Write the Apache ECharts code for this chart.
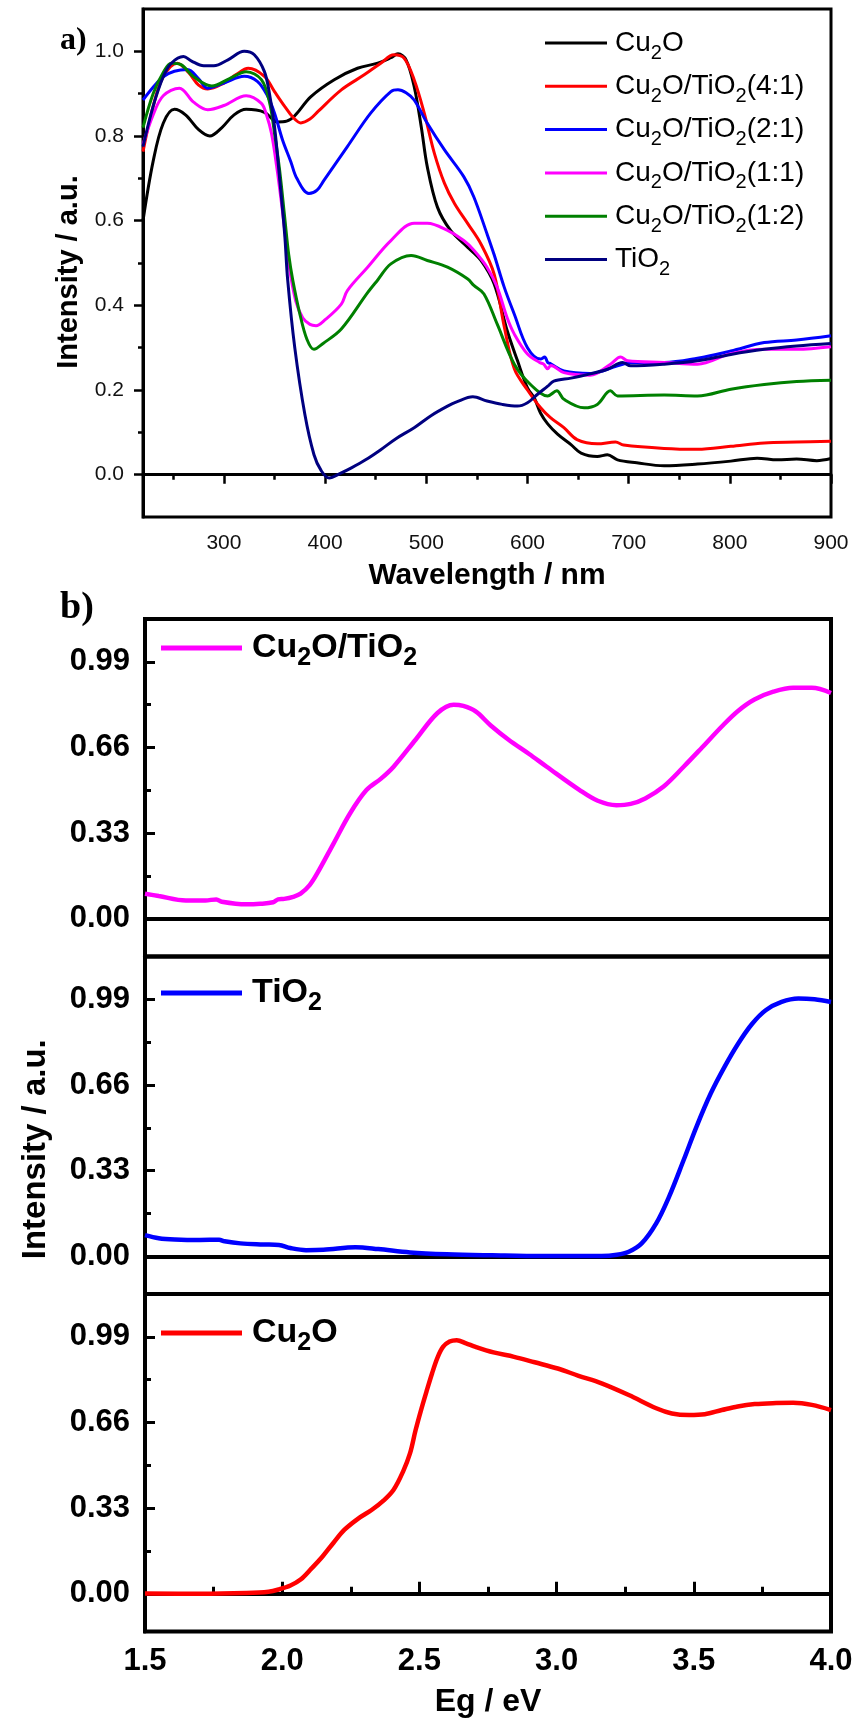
<!DOCTYPE html>
<html><head><meta charset="utf-8">
<script src="https://cdn.jsdelivr.net/npm/echarts@6/dist/echarts.min.js"></script>
<style>html,body{margin:0;padding:0;background:#fff}#c{width:857px;height:1727px}</style>
</head><body><div id="c"></div><script>
// ---------- Panel a: UV-vis spectra (wavelength nm, intensity) ----------
const aCu2O = [[220,0.60],[230,0.74],[240,0.83],[251,0.863],[262,0.85],[275,0.815],[286,0.80],[298,0.82],[310,0.85],[322,0.863],[340,0.856],[353,0.833],[362,0.835],[370,0.848],[386,0.893],[409,0.933],[432,0.960],[452,0.972],[465,0.985],[472,0.994],[480,0.980],[488,0.917],[495,0.822],[501,0.727],[511,0.632],[524,0.577],[541,0.537],[554,0.506],[567,0.451],[580,0.34],[590,0.27],[600,0.205],[607,0.18],[613,0.145],[620,0.120],[630,0.095],[643,0.071],[653,0.051],[669,0.043],[679,0.047],[689,0.035],[708,0.028],[735,0.021],[768,0.025],[801,0.032],[827,0.039],[847,0.035],[866,0.037],[886,0.033],[900,0.038]];
const a41 = [[220,0.763],[230,0.87],[240,0.94],[254,0.972],[265,0.95],[275,0.92],[284,0.911],[300,0.925],[312,0.945],[324,0.960],[340,0.941],[350,0.905],[360,0.870],[368,0.845],[376,0.831],[385,0.84],[393,0.858],[416,0.909],[439,0.945],[455,0.972],[468,0.992],[478,0.984],[488,0.933],[498,0.854],[508,0.759],[518,0.688],[528,0.640],[541,0.593],[554,0.545],[567,0.474],[577,0.35],[587,0.25],[600,0.20],[613,0.158],[623,0.134],[636,0.111],[649,0.083],[669,0.073],[687,0.077],[695,0.070],[735,0.062],[768,0.060],[801,0.067],[834,0.075],[866,0.077],[900,0.079]];
const a21 = [[220,0.885],[230,0.915],[240,0.94],[251,0.953],[264,0.957],[275,0.935],[284,0.913],[300,0.925],[320,0.941],[333,0.929],[343,0.895],[350,0.854],[358,0.79],[366,0.74],[372,0.70],[384,0.664],[392,0.672],[399,0.696],[422,0.775],[445,0.854],[465,0.905],[472,0.909],[480,0.902],[488,0.885],[501,0.830],[518,0.767],[537,0.704],[547,0.656],[560,0.569],[567,0.52],[577,0.443],[587,0.379],[600,0.300],[613,0.273],[617,0.278],[620,0.265],[623,0.262],[636,0.245],[662,0.239],[689,0.257],[702,0.265],[735,0.265],[768,0.275],[801,0.292],[834,0.312],[866,0.318],[900,0.328]];
const a11 = [[220,0.78],[230,0.85],[240,0.895],[256,0.913],[270,0.88],[284,0.862],[300,0.872],[322,0.895],[337,0.877],[342,0.85],[347,0.806],[352,0.73],[358,0.62],[364,0.50],[371,0.41],[378,0.37],[385,0.355],[391,0.352],[400,0.366],[416,0.403],[422,0.435],[442,0.490],[465,0.553],[488,0.594],[501,0.594],[521,0.577],[537,0.553],[547,0.530],[560,0.490],[570,0.443],[580,0.37],[587,0.332],[600,0.285],[612,0.265],[616,0.261],[620,0.250],[623,0.258],[636,0.241],[662,0.235],[682,0.261],[692,0.278],[699,0.269],[735,0.265],[768,0.261],[801,0.286],[834,0.296],[866,0.296],[900,0.302]];
const a12 = [[220,0.82],[230,0.90],[240,0.95],[248,0.972],[258,0.968],[270,0.94],[288,0.918],[305,0.935],[322,0.952],[337,0.933],[345,0.88],[350,0.806],[355,0.72],[360,0.609],[364,0.52],[368,0.46],[375,0.38],[382,0.32],[389,0.296],[398,0.31],[416,0.344],[442,0.43],[452,0.46],[465,0.498],[485,0.518],[501,0.506],[521,0.490],[541,0.462],[547,0.447],[557,0.427],[570,0.356],[587,0.261],[603,0.213],[620,0.186],[629,0.198],[636,0.178],[656,0.158],[669,0.166],[682,0.198],[689,0.186],[735,0.188],[768,0.186],[801,0.202],[834,0.213],[866,0.220],[900,0.223]];
const aTiO2 = [[220,0.775],[230,0.87],[240,0.94],[248,0.972],[260,0.988],[268,0.977],[280,0.966],[290,0.966],[304,0.980],[320,1.0],[330,0.992],[340,0.952],[345,0.90],[350,0.822],[355,0.70],[360,0.569],[363,0.46],[370,0.30],[380,0.142],[389,0.047],[396,0.01],[404,-0.008],[415,0.003],[426,0.016],[440,0.035],[455,0.059],[470,0.085],[488,0.111],[505,0.140],[521,0.162],[530,0.172],[546,0.184],[560,0.174],[575,0.166],[590,0.162],[600,0.170],[610,0.19],[620,0.209],[626,0.221],[643,0.228],[653,0.233],[679,0.249],[694,0.265],[702,0.257],[735,0.261],[768,0.269],[801,0.284],[834,0.296],[866,0.304],[900,0.310]];
const aNames = ['Cu2O','Cu2O/TiO2(4:1)','Cu2O/TiO2(2:1)','Cu2O/TiO2(1:1)','Cu2O/TiO2(1:2)','TiO2'];
const aColors = ['#000000','#ff0000','#0000ff','#ff00ff','#008000','#000080'];
const waveMajor = [300,400,500,600,700,800,900];
const waveMinor = [250,350,450,550,650,750,850];
const intMajorA = [0,0.2,0.4,0.6,0.8,1.0];
const intMinorA = [0.1,0.3,0.5,0.7,0.9];

// ---------- Panel b: band gap curves (eV, intensity) ----------
const bComposite = [[1.5,0.097],[1.55,0.088],[1.649,0.071],[1.72,0.071],[1.76,0.075],[1.78,0.066],[1.868,0.056],[1.92,0.058],[1.967,0.064],[1.985,0.075],[2.007,0.077],[2.04,0.085],[2.067,0.097],[2.1,0.13],[2.127,0.174],[2.187,0.290],[2.247,0.406],[2.307,0.496],[2.36,0.54],[2.406,0.586],[2.486,0.690],[2.566,0.793],[2.625,0.825],[2.66,0.82],[2.705,0.799],[2.76,0.745],[2.825,0.690],[2.9,0.635],[2.964,0.586],[3.084,0.496],[3.15,0.455],[3.218,0.438],[3.27,0.443],[3.323,0.464],[3.39,0.51],[3.463,0.586],[3.53,0.66],[3.602,0.741],[3.66,0.80],[3.721,0.845],[3.79,0.875],[3.862,0.890],[3.93,0.89],[4.0,0.870]];
const bTiO2 = [[1.5,0.082],[1.55,0.07],[1.609,0.065],[1.7,0.063],[1.77,0.064],[1.79,0.058],[1.848,0.050],[1.93,0.046],[1.988,0.044],[2.03,0.032],[2.087,0.024],[2.15,0.025],[2.267,0.035],[2.35,0.028],[2.466,0.015],[2.6,0.008],[2.765,0.004],[2.95,0.001],[3.164,0.001],[3.22,0.006],[3.263,0.018],[3.31,0.05],[3.363,0.127],[3.41,0.23],[3.463,0.371],[3.51,0.50],[3.562,0.628],[3.612,0.73],[3.662,0.820],[3.712,0.895],[3.762,0.948],[3.82,0.98],[3.881,0.993],[3.94,0.99],[4.0,0.980]];
const bCu2O = [[1.5,0.001],[1.7,0.0],[1.868,0.003],[1.95,0.008],[1.988,0.017],[2.03,0.032],[2.067,0.055],[2.107,0.098],[2.147,0.144],[2.187,0.197],[2.227,0.247],[2.277,0.29],[2.327,0.324],[2.37,0.36],[2.406,0.401],[2.44,0.47],[2.466,0.542],[2.486,0.63],[2.506,0.708],[2.526,0.78],[2.546,0.849],[2.566,0.91],[2.586,0.951],[2.61,0.972],[2.636,0.977],[2.67,0.965],[2.705,0.951],[2.77,0.93],[2.845,0.913],[2.92,0.892],[3.004,0.868],[3.08,0.84],[3.164,0.811],[3.263,0.766],[3.363,0.715],[3.42,0.695],[3.483,0.689],[3.54,0.692],[3.602,0.708],[3.66,0.722],[3.722,0.731],[3.8,0.735],[3.862,0.736],[3.93,0.728],[4.0,0.708]];
const bNames = ['b:Cu2O/TiO2','b:TiO2','b:Cu2O'];
const bColors = ['#ff00ff','#0000ff','#ff0000'];
const intMajorB = [0,0.33,0.66,0.99];
const intMinorB = [0.165,0.495,0.825];

const FONT = 'Liberation Sans, Arial, sans-serif';
const subFmt = n => n.replace(/^b:/, '').replace(/([uO])2/g, '$1{s|2}');

const gridsB = [619, 956.5, 1294];
const grids = [{left:143, top:9, width:688, height:508, show:true, borderColor:'#000', borderWidth:3}]
  .concat(gridsB.map(t => ({left:145, top:t, width:686, height:337.5, show:true, borderColor:'#000', borderWidth:4})));

const xAxes = [
  {gridIndex:0, type:'value', position:'bottom', min:220, max:900,
   axisLine:{show:true, lineStyle:{color:'#000', width:3}},
   axisTick:{show:true, inside:false, length:9, customValues:waveMajor, lineStyle:{color:'#000', width:2.5}},
   axisLabel:{show:true, customValues:waveMajor, fontSize:21, margin:16, color:'#111', fontFamily:FONT},
   splitLine:{show:false},
   name:'Wavelength / nm', nameLocation:'middle', nameGap:44,
   nameTextStyle:{fontSize:30, fontWeight:'bold', color:'#000', fontFamily:FONT}},
  {gridIndex:0, type:'value', position:'bottom', min:220, max:900,
   axisLine:{show:false}, axisTick:{show:true, inside:false, length:5, customValues:waveMinor, lineStyle:{color:'#000', width:2.5}},
   axisLabel:{show:false}, splitLine:{show:false}}
];
const yAxes = [
  {gridIndex:0, type:'value', position:'left', min:-0.1, max:1.1,
   axisLine:{show:true, lineStyle:{color:'#000', width:3}},
   axisTick:{show:true, inside:false, length:9, customValues:intMajorA, lineStyle:{color:'#000', width:2.5}},
   axisLabel:{show:true, customValues:intMajorA, formatter:v => v.toFixed(1), fontSize:21, margin:19, color:'#111', fontFamily:FONT},
   splitLine:{show:false},
   name:'Intensity / a.u.', nameLocation:'middle', nameGap:55,
   nameTextStyle:{fontSize:29, fontWeight:'bold', color:'#000', fontFamily:FONT, padding:[0,18,0,0]}},
  {gridIndex:0, type:'value', position:'left', min:-0.1, max:1.1,
   axisLine:{show:false}, axisTick:{show:true, inside:false, length:5, customValues:intMinorA, lineStyle:{color:'#000', width:2.5}},
   axisLabel:{show:false}, splitLine:{show:false}}
];
gridsB.forEach((t, i) => {
  const g = i + 1, last = i === 2;
  xAxes.push({gridIndex:g, type:'value', position:'bottom', min:1.5, max:4.0, interval:0.5,
    axisLine:{show:true, lineStyle:{color:'#000', width:4}},
    axisTick:{show:last, inside:true, length:12, lineStyle:{color:'#000', width:3}},
    minorTick:{show:last, splitNumber:2, length:7, lineStyle:{color:'#000', width:3}},
    axisLabel:{show:last, formatter:v => v.toFixed(1), fontSize:31, fontWeight:'bold', margin:14, color:'#000', fontFamily:FONT},
    splitLine:{show:false},
    name: last ? 'Eg / eV' : '', nameLocation:'middle', nameGap:55,
    nameTextStyle:{fontSize:32, fontWeight:'bold', color:'#000', fontFamily:FONT}});
  yAxes.push({gridIndex:g, type:'value', position:'left', min:-0.145, max:1.155,
    axisLine:{show:true, lineStyle:{color:'#000', width:4}},
    axisTick:{show:true, inside:true, length:10, customValues:intMajorB, lineStyle:{color:'#000', width:3}},
    axisLabel:{show:true, customValues:intMajorB, formatter:v => v.toFixed(2), fontSize:31, fontWeight:'bold', margin:15, color:'#000', fontFamily:FONT},
    splitLine:{show:false},
    name: i === 1 ? 'Intensity / a.u.' : '', nameLocation:'middle', nameGap:93,
    nameTextStyle:{fontSize:33, fontWeight:'bold', color:'#000', fontFamily:FONT, padding:[0,48,0,0]}});
  yAxes.push({gridIndex:g, type:'value', position:'left', min:-0.145, max:1.155,
    axisLine:{show:false}, axisTick:{show:true, inside:true, length:6, customValues:intMinorB, lineStyle:{color:'#000', width:3}},
    axisLabel:{show:false}, splitLine:{show:false}});
});

const aData = [aCu2O, a41, a21, a11, a12, aTiO2];
const series = aData.map((d, i) => ({
  name:aNames[i], type:'line', xAxisIndex:0, yAxisIndex:0, data:d,
  symbol:'none', showSymbol:false, smooth:0.35,
  lineStyle:{color:aColors[i], width:3}, itemStyle:{color:aColors[i]}
}));
const bData = [bComposite, bTiO2, bCu2O];
bData.forEach((d, i) => series.push({
  name:bNames[i], type:'line', xAxisIndex:2 + i, yAxisIndex:2 + 2 * i, data:d,
  symbol:'none', showSymbol:false, smooth:0.35,
  lineStyle:{color:bColors[i], width:4.5}, itemStyle:{color:bColors[i]}
}));

const legends = [{
  data:aNames, orient:'vertical', left:545, top:23, padding:0, itemWidth:62, itemHeight:3, itemGap:3.3,
  icon:'rect', formatter:subFmt, selectedMode:false,
  textStyle:{fontSize:28, lineHeight:40, color:'#000', fontFamily:FONT, padding:[0,0,0,3],
    rich:{s:{fontSize:20, lineHeight:20, verticalAlign:'bottom', color:'#000', fontFamily:FONT}}}
}];
const bLegendTops = [625, 970, 1310];
bNames.forEach((n, i) => legends.push({
  data:[n], orient:'vertical', left:161, top:bLegendTops[i], padding:0, itemWidth:81, itemHeight:5,
  icon:'rect', formatter:subFmt, selectedMode:false,
  textStyle:{fontSize:34, lineHeight:46, fontWeight:'bold', color:'#000', fontFamily:FONT, padding:[0,0,0,5],
    rich:{s:{fontSize:25, lineHeight:25, fontWeight:'bold', verticalAlign:'bottom', color:'#000', fontFamily:FONT}}}
}));

const chart = echarts.init(document.getElementById('c'));
chart.setOption({
  backgroundColor:'#ffffff',
  animation:false,
  title:[
    {text:'a)', left:60, top:25, padding:0, textStyle:{fontFamily:'Liberation Serif, Times New Roman, serif', fontSize:32, fontWeight:'bold', color:'#000'}},
    {text:'b)', left:60, top:589, padding:0, textStyle:{fontFamily:'Liberation Serif, Times New Roman, serif', fontSize:38, fontWeight:'bold', color:'#000'}}
  ],
  grid:grids, xAxis:xAxes, yAxis:yAxes, legend:legends, series:series
});
</script></body></html>
